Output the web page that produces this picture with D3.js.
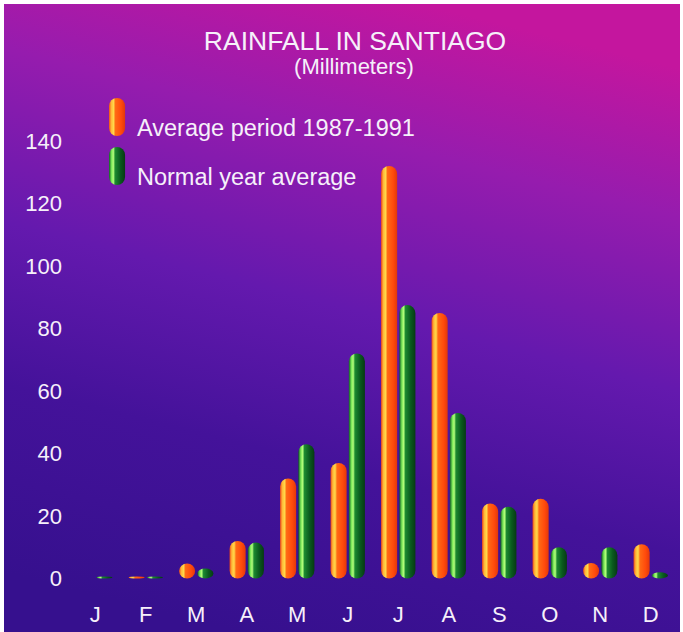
<!DOCTYPE html>
<html>
<head>
<meta charset="utf-8">
<style>
  body { margin: 0; background: #fff; }
  text { font-family: "Liberation Sans", Arial, sans-serif; fill: #f6f0fa; }
</style>
</head>
<body>
<svg width="683" height="632"></svg>
<script src="https://d3js.org/d3.v7.min.js"></script>
<script>

  var months = ["J", "F", "M", "A", "M", "J", "J", "A", "S", "O", "N", "D"];
  var avgPeriod = [0, 0.5, 4.8, 12, 32, 37, 132, 85, 24, 25.5, 5, 11];
  var normalYear = [0.3, 0.5, 3.2, 11.5, 43, 72, 87.5, 53, 23, 10, 10, 2];
  var yTicks = [0, 20, 40, 60, 80, 100, 120, 140];
  var seriesNames = ["Average period 1987-1991", "Normal year average"];

  var svg = d3.select("svg"),
    margin = {top: 141, right: 7, bottom: 53, left: 70},
    width = +svg.attr("width") - margin.left - margin.right,
    height = +svg.attr("height") - margin.top - margin.bottom;

  var defs = svg.append("defs");

  var bg = defs.append("linearGradient").attr("id", "bg")
    .attr("x1", 0.35).attr("y1", 1).attr("x2", 0.62).attr("y2", 0);
  [[0, "#36108e"], [0.28, "#44129a"], [0.52, "#6419ae"], [0.78, "#961cae"], [1, "#c4169e"]].forEach(function (s) {
    bg.append("stop").attr("offset", s[0]).attr("stop-color", s[1]);
  });

  var orange = defs.append("linearGradient").attr("id", "orange");
  [[0, "#f04818"], [0.14, "#ffb838"], [0.28, "#ffd84a"], [0.4, "#ff6a14"], [0.75, "#ff4a0c"], [1, "#e2380a"]].forEach(function (s) {
    orange.append("stop").attr("offset", s[0]).attr("stop-color", s[1]);
  });

  var green = defs.append("linearGradient").attr("id", "green");
  [[0, "#0c5a24"], [0.16, "#7ae858"], [0.27, "#b4ff7c"], [0.38, "#1c8a30"], [0.7, "#0a5a1e"], [1, "#063a14"]].forEach(function (s) {
    green.append("stop").attr("offset", s[0]).attr("stop-color", s[1]);
  });

  svg.append("rect")
    .attr("x", 4).attr("y", 4).attr("width", 676).attr("height", 628)
    .attr("fill", "url(#bg)");

  var g = svg.append("g").attr("transform", "translate(" + margin.left + "," + margin.top + ")");

  var x = d3.scaleBand().domain(d3.range(months.length)).range([0, width]).paddingInner(0.32).paddingOuter(0.16);
  var x1 = d3.scaleBand().domain([0, 1]).range([0, x.bandwidth()]).paddingInner(0.12);
  var y = d3.scaleLinear().domain([0, 140]).range([height - 0.5, 0]);

  var fills = ["url(#orange)", "url(#green)"];

  var groups = g.selectAll(".month")
    .data(months.map(function (m, i) { return [avgPeriod[i], normalYear[i]]; }))
    .enter().append("g")
    .attr("class", "month")
    .attr("transform", function (d, i) { return "translate(" + x(i) + ",0)"; });

  groups.selectAll("rect")
    .data(function (d) { return d.map(function (v, k) { return {v: v, k: k}; }).filter(function (d) { return d.v > 0; }); })
    .enter().append("rect")
    .attr("x", function (d) { return x1(d.k); })
    .attr("width", x1.bandwidth())
    .attr("y", function (d) { return Math.min(y(d.v), y(0) - 2); })
    .attr("height", function (d) { return Math.max(y(0) - y(d.v), 2); })
    .attr("rx", x1.bandwidth() / 2)
    .attr("fill", function (d) { return fills[d.k]; });

  // y axis labels only
  var yAxis = g.append("g")
    .attr("transform", "translate(-8,0)")
    .call(d3.axisLeft(y).tickValues(yTicks).tickSize(0).tickPadding(0));
  yAxis.select(".domain").remove();
  yAxis.selectAll("text")
    .attr("fill", "#f6f0fa")
    .style("font-size", "22px")
    .style("font-family", "'Liberation Sans', Arial, sans-serif");

  // month labels
  g.append("g").selectAll("text")
    .data(months)
    .enter().append("text")
    .attr("x", function (d, i) { return x(i) + x.bandwidth() / 2; })
    .attr("y", height + 43)
    .attr("text-anchor", "middle")
    .style("font-size", "22px")
    .text(function (d) { return d; });

  // title
  svg.append("text")
    .attr("x", 355).attr("y", 50)
    .attr("text-anchor", "middle")
    .style("font-size", "26.5px")
    .text("RAINFALL IN SANTIAGO");
  svg.append("text")
    .attr("x", 354).attr("y", 74)
    .attr("text-anchor", "middle")
    .style("font-size", "22px")
    .text("(Millimeters)");

  // legend
  var legend = svg.append("g").attr("transform", "translate(109,98)");
  seriesNames.forEach(function (name, k) {
    legend.append("rect")
      .attr("x", 0).attr("y", k * 49)
      .attr("width", x1.bandwidth()).attr("height", 38)
      .attr("rx", x1.bandwidth() / 2)
      .attr("fill", fills[k]);
    legend.append("text")
      .attr("x", 28).attr("y", k * 49 + 38)
      .style("font-size", "23.5px")
      .text(name);
  });

</script>
</body>
</html>
